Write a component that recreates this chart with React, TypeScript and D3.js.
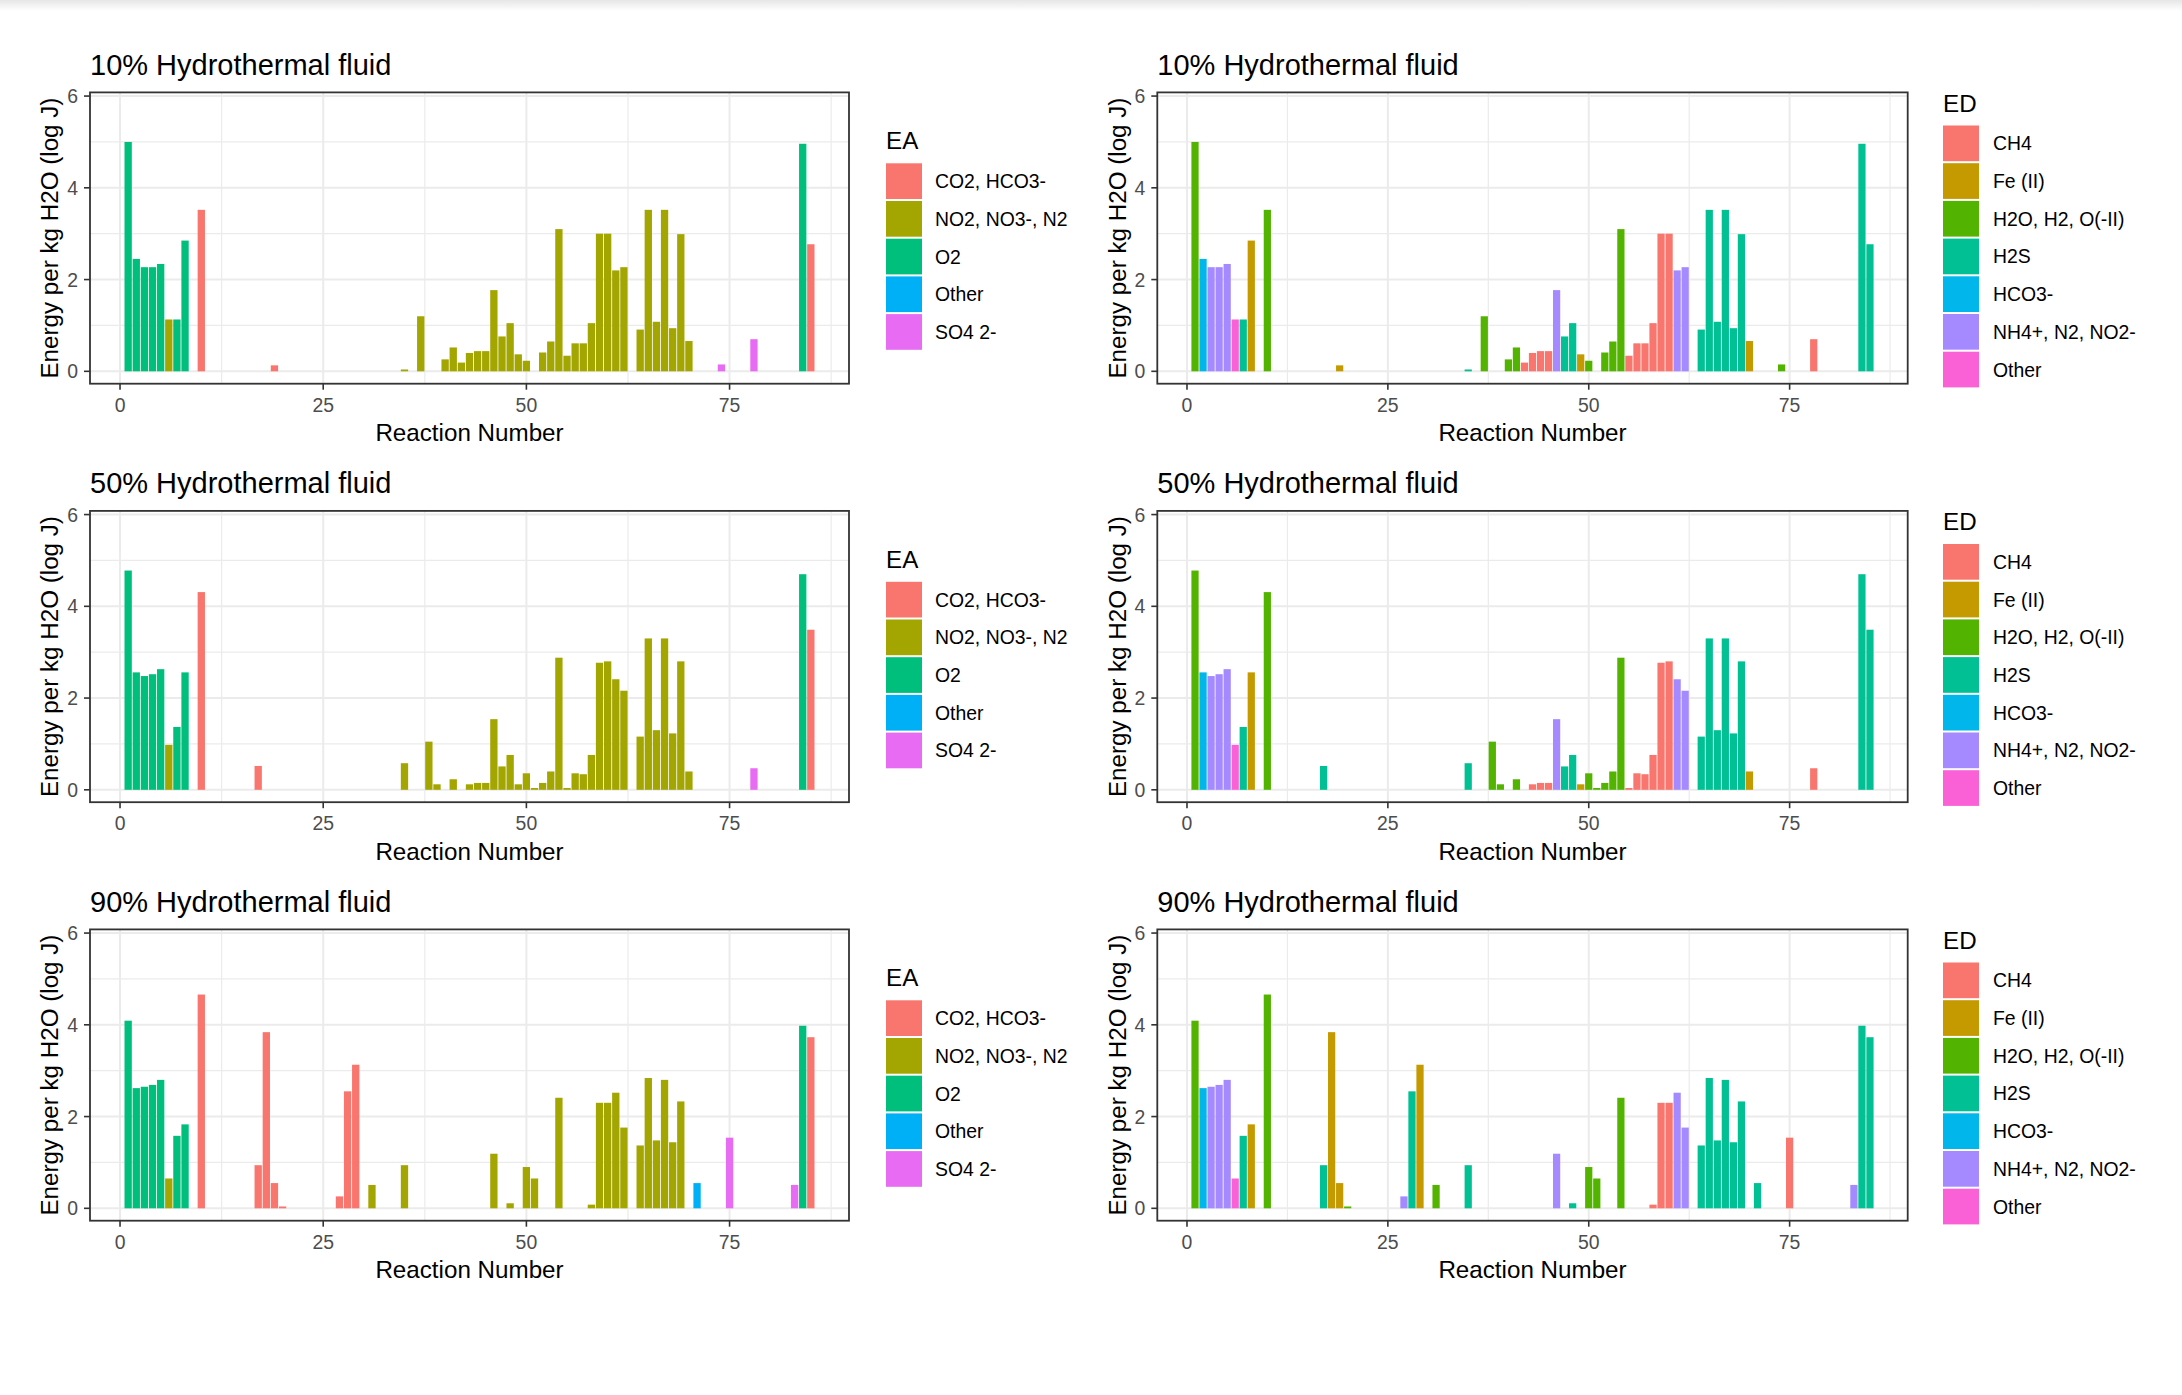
import { useEffect, useRef } from "react";
import * as d3 from "d3";

// Reactions that carry a bar in at least one panel
const reactionNumbers = [
  1, 2, 3, 4, 5, 6, 7, 8,
  10,
  17, 18, 19, 20,
  27, 28, 29,
  31, 35,
  37, 38, 39, 40, 41,
  42, 43, 44, 45,
  46, 47, 48, 49, 50,
  51, 52, 53, 54,
  55, 56, 57, 58, 59, 60,
  61, 62,
  64, 65, 66, 67, 68, 69,
  70,
  71,
  74, 75,
  78,
  83, 84, 85,
];

// Electron acceptor of each reaction
const eaGroup = [
  "O2", "O2", "O2", "O2", "O2", "NO2, NO3-, N2", "O2", "O2",
  "CO2, HCO3-",
  "CO2, HCO3-", "CO2, HCO3-", "CO2, HCO3-", "CO2, HCO3-",
  "CO2, HCO3-", "CO2, HCO3-", "CO2, HCO3-",
  "NO2, NO3-, N2", "NO2, NO3-, N2",
  "NO2, NO3-, N2", "NO2, NO3-, N2", "NO2, NO3-, N2", "NO2, NO3-, N2", "NO2, NO3-, N2",
  "NO2, NO3-, N2", "NO2, NO3-, N2", "NO2, NO3-, N2", "NO2, NO3-, N2",
  "NO2, NO3-, N2", "NO2, NO3-, N2", "NO2, NO3-, N2", "NO2, NO3-, N2", "NO2, NO3-, N2",
  "NO2, NO3-, N2", "NO2, NO3-, N2", "NO2, NO3-, N2", "NO2, NO3-, N2",
  "NO2, NO3-, N2", "NO2, NO3-, N2", "NO2, NO3-, N2", "NO2, NO3-, N2", "NO2, NO3-, N2", "NO2, NO3-, N2",
  "NO2, NO3-, N2", "NO2, NO3-, N2",
  "NO2, NO3-, N2", "NO2, NO3-, N2", "NO2, NO3-, N2", "NO2, NO3-, N2", "NO2, NO3-, N2", "NO2, NO3-, N2",
  "NO2, NO3-, N2",
  "Other",
  "SO4 2-", "SO4 2-",
  "SO4 2-",
  "SO4 2-", "O2", "CO2, HCO3-",
];

// Electron donor of each reaction
const edGroup = [
  "H2O, H2, O(-II)", "HCO3-", "NH4+, N2, NO2-", "NH4+, N2, NO2-", "NH4+, N2, NO2-", "Other", "H2S", "Fe (II)",
  "H2O, H2, O(-II)",
  "H2S", "Fe (II)", "Fe (II)", "H2O, H2, O(-II)",
  "NH4+, N2, NO2-", "H2S", "Fe (II)",
  "H2O, H2, O(-II)", "H2S",
  "H2O, H2, O(-II)", "H2O, H2, O(-II)", "H2O, H2, O(-II)", "H2O, H2, O(-II)", "H2O, H2, O(-II)",
  "CH4", "CH4", "CH4", "CH4",
  "NH4+, N2, NO2-", "H2S", "H2S", "Fe (II)", "H2O, H2, O(-II)",
  "H2O, H2, O(-II)", "H2O, H2, O(-II)", "H2O, H2, O(-II)", "H2O, H2, O(-II)",
  "CH4", "CH4", "CH4", "CH4", "CH4", "CH4",
  "NH4+, N2, NO2-", "NH4+, N2, NO2-",
  "H2S", "H2S", "H2S", "H2S", "H2S", "H2S",
  "Fe (II)",
  "H2S",
  "H2O, H2, O(-II)", "CH4",
  "CH4",
  "NH4+, N2, NO2-", "H2S", "H2S",
];

// Energy per kg H2O (log J); null = no bar
const energy10 = [
  5.0, 2.45, 2.27, 2.27, 2.34, 1.13, 1.13, 2.85,
  3.52,
  null, null, 0.13, null,
  null, null, null,
  null, 0.04,
  1.2, null, null, 0.26, 0.52,
  0.19, 0.4, 0.44, 0.44,
  1.77, 0.76, 1.05, 0.37, 0.23,
  null, 0.41, 0.65, 3.1,
  0.34, 0.61, 0.61, 1.05, 3.0, 3.0,
  2.2, 2.27,
  0.91, 3.52, 1.08, 3.52, 0.94, 2.99,
  0.66,
  null,
  0.15, null,
  0.7,
  null, 4.96, 2.77,
];

const energy50 = [
  4.78, 2.56, 2.48, 2.52, 2.63, 0.98, 1.37, 2.56,
  4.31,
  0.52, null, null, null,
  null, null, null,
  null, 0.58,
  null, 1.05, 0.12, null, 0.23,
  null, 0.12, 0.15, 0.15,
  1.54, 0.51, 0.76, 0.12, 0.36,
  0.04, 0.15, 0.4, 2.88,
  0.04, 0.36, 0.34, 0.76, 2.77, 2.8,
  2.41, 2.16,
  1.16, 3.3, 1.3, 3.3, 1.23, 2.8,
  0.4,
  null,
  null, null,
  0.47,
  null, 4.7, 3.49,
];

const energy90 = [
  4.09, 2.62, 2.65, 2.69, 2.8, 0.65, 1.58, 1.83,
  4.66,
  0.94, 3.84, 0.55, 0.04,
  0.26, 2.55, 3.13,
  0.51, 0.94,
  null, null, null, null, null,
  null, null, null, null,
  1.19, null, 0.11, null, 0.9,
  0.65, null, null, 2.41,
  null, null, null, 0.08, 2.3, 2.3,
  2.52, 1.76,
  1.37, 2.84, 1.48, 2.8, 1.44, 2.33,
  null,
  0.55,
  null, 1.54,
  null,
  0.51, 3.98, 3.73,
];

const panelTitles = ["10% Hydrothermal fluid", "50% Hydrothermal fluid", "90% Hydrothermal fluid"];

const eaLevels = ["CO2, HCO3-", "NO2, NO3-, N2", "O2", "Other", "SO4 2-"];
const eaColors = ["#F8766D", "#A3A500", "#00BF7D", "#00B0F6", "#E76BF3"];
const edLevels = ["CH4", "Fe (II)", "H2O, H2, O(-II)", "H2S", "HCO3-", "NH4+, N2, NO2-", "Other"];
const edColors = ["#F8766D", "#C49A00", "#53B400", "#00C094", "#00B6EB", "#A58AFF", "#FB61D7"];

const xTicks = [0, 25, 50, 75];
const yTicks = [0, 2, 4, 6];

const WIDTH = 2182;
const HEIGHT = 1395;
const FONT = "'Liberation Sans', Arial, sans-serif";

export default function App(): JSX.Element {
  const svgRef = useRef<SVGSVGElement>(null);

  useEffect(() => {
    const svg = d3.select(svgRef.current);
    svg.selectAll("*").remove();

    svg.append("rect").attr("width", WIDTH).attr("height", HEIGHT).attr("fill", "#ffffff");

    // faint grey shade along the top edge of the screenshot
    const grad = svg.append("defs").append("linearGradient")
      .attr("id", "topShade").attr("x1", 0).attr("y1", 0).attr("x2", 0).attr("y2", 1);
    grad.append("stop").attr("offset", "0%").attr("stop-color", "#e6e6e6");
    grad.append("stop").attr("offset", "100%").attr("stop-color", "#ffffff");
    svg.append("rect").attr("width", WIDTH).attr("height", 11).attr("fill", "url(#topShade)");

    const seriesByRow = [energy10, energy50, energy90];
    const rowStep = 418.5;

    const columns = [
      { left: 90, right: 849, groups: eaGroup, levels: eaLevels, colors: eaColors, name: "EA",
        keyX: 886, labelX: 935, titleBase: 149.3, keyTop: 163.3 },
      { left: 1157.3, right: 1907.7, groups: edGroup, levels: edLevels, colors: edColors, name: "ED",
        keyX: 1943, labelX: 1993, titleBase: 111.7, keyTop: 125.5 },
    ];

    seriesByRow.forEach((values, r) => {
      const dy = r * rowStep;
      const top = 92.4 + dy;
      const bottom = 383.7 + dy;

      columns.forEach(col => {
        const x = d3.scaleLinear().domain([-3.695, 89.695]).range([col.left, col.right]);
        const y = d3.scaleLinear().domain([-0.27, 6.08]).range([bottom, top]);
        const color = d3.scaleOrdinal<string, string>().domain(col.levels).range(col.colors);

        const g = svg.append("g");

        // grid
        const minorX = [12.5, 37.5, 62.5, 87.5];
        const minorY = [1, 3, 5];
        g.selectAll("line.mx").data(minorX).enter().append("line")
          .attr("x1", d => x(d)).attr("x2", d => x(d)).attr("y1", top).attr("y2", bottom)
          .attr("stroke", "#EBEBEB").attr("stroke-width", 1.2);
        g.selectAll("line.my").data(minorY).enter().append("line")
          .attr("x1", col.left).attr("x2", col.right).attr("y1", d => y(d)).attr("y2", d => y(d))
          .attr("stroke", "#EBEBEB").attr("stroke-width", 1.2);
        g.selectAll("line.gx").data(xTicks).enter().append("line")
          .attr("x1", d => x(d)).attr("x2", d => x(d)).attr("y1", top).attr("y2", bottom)
          .attr("stroke", "#EBEBEB").attr("stroke-width", 2);
        g.selectAll("line.gy").data(yTicks).enter().append("line")
          .attr("x1", col.left).attr("x2", col.right).attr("y1", d => y(d)).attr("y2", d => y(d))
          .attr("stroke", "#EBEBEB").attr("stroke-width", 2);

        // bars
        const bars = reactionNumbers
          .map((n, i) => ({ n, v: values[i], grp: col.groups[i] }))
          .filter(d => d.v !== null) as { n: number; v: number; grp: string }[];

        g.selectAll("rect.bar").data(bars).enter().append("rect")
          .attr("x", d => x(d.n - 0.45))
          .attr("width", d => x(d.n + 0.45) - x(d.n - 0.45))
          .attr("y", d => y(d.v))
          .attr("height", d => y(0) - y(d.v))
          .attr("fill", d => color(d.grp));

        // border
        g.append("rect")
          .attr("x", col.left).attr("y", top)
          .attr("width", col.right - col.left).attr("height", bottom - top)
          .attr("fill", "none").attr("stroke", "#333333").attr("stroke-width", 1.8);

        // ticks and labels
        g.selectAll("line.tx").data(xTicks).enter().append("line")
          .attr("x1", d => x(d)).attr("x2", d => x(d)).attr("y1", bottom).attr("y2", bottom + 6)
          .attr("stroke", "#333333").attr("stroke-width", 1.6);
        g.selectAll("text.tx").data(xTicks).enter().append("text")
          .attr("x", d => x(d)).attr("y", bottom + 28)
          .attr("text-anchor", "middle")
          .style("font-family", FONT).style("font-size", "19.4px").attr("fill", "#4D4D4D")
          .text(d => d);

        g.selectAll("line.ty").data(yTicks).enter().append("line")
          .attr("x1", col.left - 6).attr("x2", col.left).attr("y1", d => y(d)).attr("y2", d => y(d))
          .attr("stroke", "#333333").attr("stroke-width", 1.6);
        g.selectAll("text.ty").data(yTicks).enter().append("text")
          .attr("x", col.left - 12).attr("y", d => y(d)).attr("dy", "0.36em")
          .attr("text-anchor", "end")
          .style("font-family", FONT).style("font-size", "19.4px").attr("fill", "#4D4D4D")
          .text(d => d);

        // titles
        g.append("text")
          .attr("x", col.left).attr("y", 74.5 + dy)
          .style("font-family", FONT).style("font-size", "29px").attr("fill", "#000000")
          .text(panelTitles[r]);

        g.append("text")
          .attr("x", (col.left + col.right) / 2).attr("y", bottom + 57.5)
          .attr("text-anchor", "middle")
          .style("font-family", FONT).style("font-size", "24.2px").attr("fill", "#000000")
          .text("Reaction Number");

        const yLabX = col.left - 40.5;
        const yLabY = (top + bottom) / 2;
        g.append("text")
          .attr("transform", `translate(${yLabX},${yLabY}) rotate(-90)`)
          .attr("dy", "0.36em")
          .attr("text-anchor", "middle")
          .style("font-family", FONT).style("font-size", "24.2px").attr("fill", "#000000")
          .text("Energy per kg H2O (log J)");

        // legend
        const lg = g.append("g");
        lg.append("text")
          .attr("x", col.keyX).attr("y", col.titleBase + dy)
          .style("font-family", FONT).style("font-size", "24.2px").attr("fill", "#000000")
          .text(col.name);
        const step = 37.7;
        lg.selectAll("rect.key").data(col.levels).enter().append("rect")
          .attr("x", col.keyX)
          .attr("y", (_, i) => col.keyTop + dy + i * step)
          .attr("width", 36)
          .attr("height", step - 2)
          .attr("fill", d => color(d));
        lg.selectAll("text.key").data(col.levels).enter().append("text")
          .attr("x", col.labelX)
          .attr("y", (_, i) => col.keyTop + dy + i * step + (step - 2) / 2)
          .attr("dy", "0.36em")
          .style("font-family", FONT).style("font-size", "19.4px").attr("fill", "#000000")
          .text(d => d);
      });
    });
  }, []);

  return (
    <svg
      ref={svgRef}
      width={WIDTH}
      height={HEIGHT}
      style={{ position: "absolute", left: 0, top: 0, display: "block" }}
    />
  );
}
